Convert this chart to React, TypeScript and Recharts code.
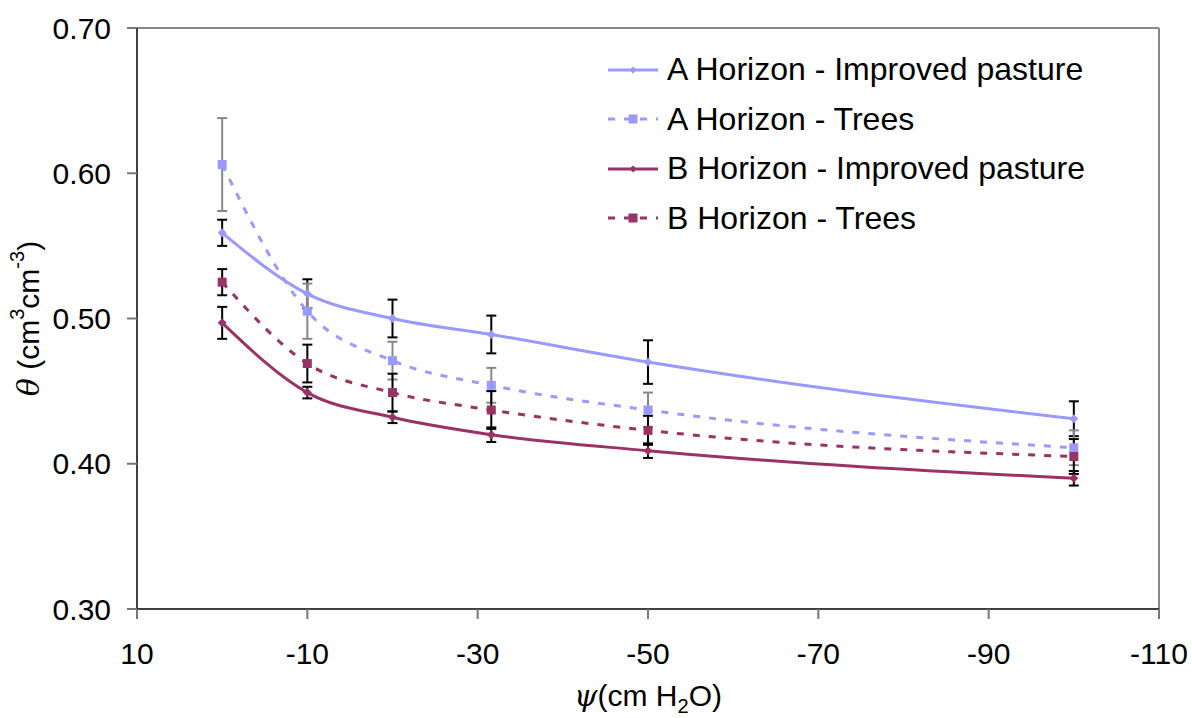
import React from 'react';
import { LineChart, Line, XAxis, YAxis, ErrorBar, Legend, ReferenceLine, Label } from 'recharts';

// matric potential (cm H2O)
const suction = [0, -10, -20, -31.6, -50, -100];

// volumetric water content, cm3 cm-3
const aPasture = [0.559, 0.517, 0.5, 0.489, 0.47, 0.431];
const aPastureErr = [0.009, 0.01, 0.013, 0.013, 0.015, 0.012];
const aTrees = [0.606, 0.505, 0.471, 0.454, 0.437, 0.411];
const aTreesErr = [0.032, 0.019, 0.013, 0.012, 0.012, 0.012];
const bPasture = [0.497, 0.449, 0.432, 0.42, 0.409, 0.39];
const bPastureErr = [0.011, 0.004, 0.004, 0.005, 0.005, 0.005];
const bTrees = [0.525, 0.469, 0.449, 0.437, 0.423, 0.405];
const bTreesErr = [0.009, 0.013, 0.013, 0.013, 0.01, 0.012];

const xTicks = [10, -10, -30, -50, -70, -90, -110];
const yTicks = [0.3, 0.4, 0.5, 0.6, 0.7];

const LIGHT = '#9999FF';
const DARK = '#993366';
const FONT = '"Liberation Sans", Arial, sans-serif';
const GREEK = '"DejaVu Serif", "Liberation Serif", serif';

const data = suction.map((x, i) => ({
  x,
  aPasture: aPasture[i],
  aPastureErr: aPastureErr[i],
  aTrees: aTrees[i],
  aTreesErr: aTreesErr[i],
  bPasture: bPasture[i],
  bPastureErr: bPastureErr[i],
  bTrees: bTrees[i],
  bTreesErr: bTreesErr[i],
}));

type Marker = 'diamond' | 'square';

const series: { key: string; name: string; color: string; dashed: boolean; marker: Marker; errColor: string }[] = [
  { key: 'aPasture', name: 'A Horizon - Improved pasture', color: LIGHT, dashed: false, marker: 'diamond', errColor: '#000' },
  { key: 'aTrees', name: 'A Horizon - Trees', color: LIGHT, dashed: true, marker: 'square', errColor: '#888' },
  { key: 'bPasture', name: 'B Horizon - Improved pasture', color: DARK, dashed: false, marker: 'diamond', errColor: '#000' },
  { key: 'bTrees', name: 'B Horizon - Trees', color: DARK, dashed: true, marker: 'square', errColor: '#000' },
];

function MarkerShape({ cx, cy, color, marker, scale = 1 }: { cx: number; cy: number; color: string; marker: Marker; scale?: number }) {
  if (cx == null || cy == null) return null;
  if (marker === 'diamond') {
    const r = 4.5 * scale;
    return <polygon points={`${cx},${cy - r} ${cx + r},${cy} ${cx},${cy + r} ${cx - r},${cy}`} fill={color} />;
  }
  const s = 9 * scale;
  return <rect x={cx - s / 2} y={cy - s / 2} width={s} height={s} fill={color} />;
}

function renderLegend() {
  return (
    <div style={{ fontFamily: FONT, fontSize: 32, color: '#000' }}>
      {series.map(s => (
        <div key={s.key} style={{ display: 'flex', alignItems: 'center', height: 49.5 }}>
          <svg width={52} height={20} style={{ marginRight: 8 }}>
            <line x1={1} y1={10} x2={51} y2={10} stroke={s.color} strokeWidth={3} strokeDasharray={s.dashed ? '7 9' : undefined} />
            <MarkerShape cx={26} cy={10} color={s.color} marker={s.marker} scale={s.dashed ? 1 : 0.8} />
          </svg>
          <span style={{ whiteSpace: 'nowrap' }}>{s.name}</span>
        </div>
      ))}
    </div>
  );
}

function XTitle(props: any) {
  const { x, y, width } = props.viewBox;
  return (
    <text x={x + width / 2} y={y + 97} textAnchor="middle" fontFamily={FONT} fontSize={30} fill="#000">
      <tspan fontFamily={GREEK} fontStyle="italic">ψ</tspan>
      <tspan>(cm H</tspan>
      <tspan fontSize={20} dy={7}>2</tspan>
      <tspan dy={-7}>O)</tspan>
    </text>
  );
}

function YTitle(props: any) {
  const { y, height } = props.viewBox;
  const cx = 28;
  const cy = y + height / 2;
  return (
    <text x={cx} y={cy} transform={`rotate(-90, ${cx}, ${cy})`} textAnchor="middle" dominantBaseline="central" fontFamily={FONT} fontSize={30} fill="#000">
      <tspan fontFamily={GREEK} fontStyle="italic">θ</tspan>
      <tspan> (cm</tspan>
      <tspan fontSize={20} dy={-11}>3</tspan>
      <tspan dy={11}>cm</tspan>
      <tspan fontSize={20} dy={-11}>-3</tspan>
      <tspan dy={11}>)</tspan>
    </text>
  );
}

export default function App() {
  const tickStyle = { fontSize: 30, fontFamily: FONT, fill: '#000' };
  return (
    <div style={{ position: 'absolute', left: 0, top: 0, background: '#fff' }}>
      <LineChart width={1192} height={718} data={data} margin={{ top: 28, right: 33, left: 37, bottom: 49 }}>
        <XAxis
          dataKey="x"
          type="number"
          domain={[-110, 10]}
          reversed
          ticks={xTicks}
          interval={0}
          height={60}
          tick={tickStyle}
          tickSize={10}
          tickMargin={24}
          axisLine={{ stroke: '#000', strokeWidth: 1.5 }}
          tickLine={{ stroke: '#777', strokeWidth: 2 }}
        >
          <Label content={XTitle} />
        </XAxis>
        <YAxis
          type="number"
          domain={[0.3, 0.7]}
          ticks={yTicks}
          interval={0}
          width={100}
          tickFormatter={(v: number) => v.toFixed(2)}
          tick={tickStyle}
          tickSize={10}
          tickMargin={16}
          axisLine={{ stroke: '#000', strokeWidth: 1.5 }}
          tickLine={{ stroke: '#777', strokeWidth: 2 }}
        >
          <Label content={YTitle} />
        </YAxis>
        <ReferenceLine y={0.7} stroke="#888" strokeWidth={2} />
        <ReferenceLine x={-110} stroke="#888" strokeWidth={2} />
        <Legend
          layout="vertical"
          align="center"
          verticalAlign="middle"
          content={renderLegend}
          wrapperStyle={{ left: 607, top: 45, width: 'auto' }}
        />
        {series.map(s => (
          <Line
            key={s.key}
            dataKey={s.key}
            name={s.name}
            type="monotone"
            stroke={s.color}
            strokeWidth={3}
            strokeDasharray={s.dashed ? '7 9' : undefined}
            isAnimationActive={false}
            activeDot={false}
            dot={(p: any) => <MarkerShape key={`${s.key}-${p.index}`} cx={p.cx} cy={p.cy} color={s.color} marker={s.marker} />}
          >
            <ErrorBar dataKey={`${s.key}Err`} direction="y" width={5} stroke={s.errColor} strokeWidth={2} />
          </Line>
        ))}
      </LineChart>
    </div>
  );
}
